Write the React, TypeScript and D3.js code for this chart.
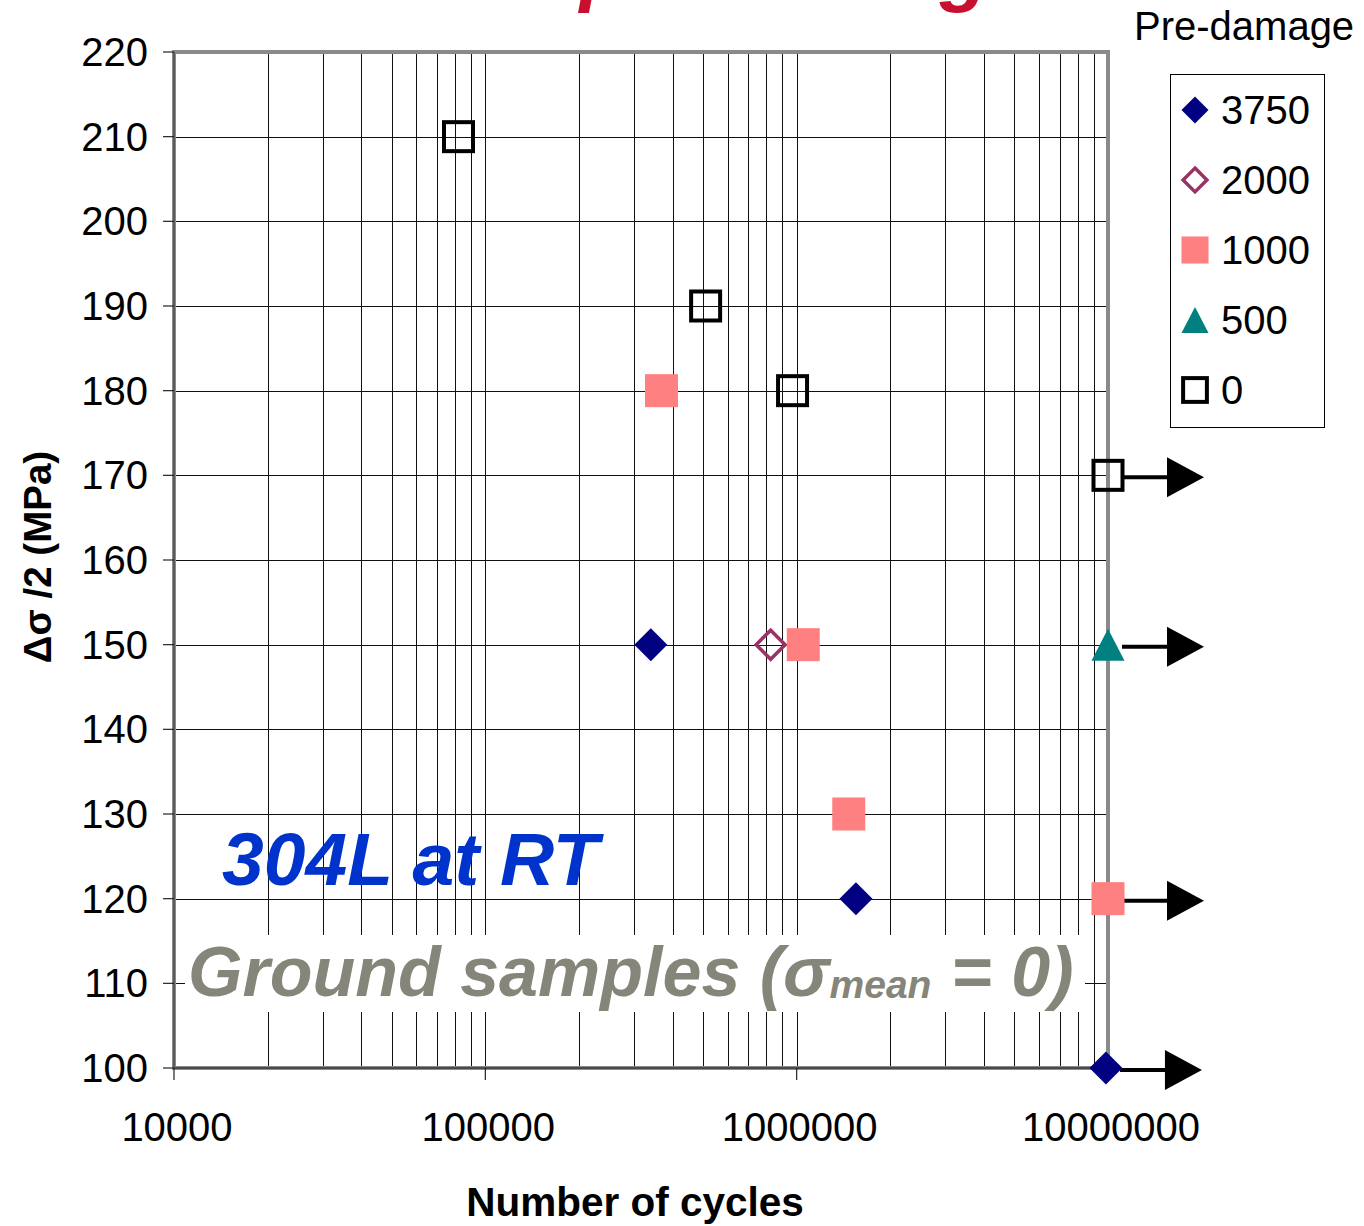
import React, { useEffect, useRef } from 'react';
import * as d3 from 'd3';

// pre-damage levels, in legend order
const seriesLabels = ['3750', '2000', '1000', '500', '0'];

const cycles3750 = [340000, 1550000, 9850000];
const stress3750 = [150, 120, 100];
const cycles2000 = [825000];
const stress2000 = [150];
const cycles1000 = [368000, 1050000, 1470000, 10000000];
const stress1000 = [180, 150, 130, 120];
const cycles500 = [10000000];
const stress500 = [150];
const cycles0 = [82000, 510000, 970000, 10000000];
const stress0 = [210, 190, 180, 170];

// run-outs (test stopped, no failure)
const runoutCycles = [10000000, 10000000, 10000000, 9850000];
const runoutStress = [170, 150, 120, 100];

const yTicks = [100, 110, 120, 130, 140, 150, 160, 170, 180, 190, 200, 210, 220];
const xTicks = [10000, 100000, 1000000, 10000000];
const xTickLabels = ['10000', '100000', '1000000', '10000000'];

const FONT = '"Liberation Sans", Arial, sans-serif';

function drawMarker(g: any, kind: string, cx: number, cy: number, legend: boolean) {
  const k = legend ? 0.82 : 1;
  if (kind === '3750') {
    const r = 16.5 * k;
    g.append('path')
      .attr('d', `M${cx},${cy - r}L${cx + r},${cy}L${cx},${cy + r}L${cx - r},${cy}Z`)
      .attr('fill', '#000080');
  } else if (kind === '2000') {
    const r = 14.5 * k;
    g.append('path')
      .attr('d', `M${cx},${cy - r}L${cx + r},${cy}L${cx},${cy + r}L${cx - r},${cy}Z`)
      .attr('fill', 'none')
      .attr('stroke', '#993366')
      .attr('stroke-width', 3.5);
  } else if (kind === '1000') {
    const s = 33 * k;
    g.append('rect')
      .attr('x', cx - s / 2).attr('y', cy - s / 2)
      .attr('width', s).attr('height', s)
      .attr('fill', '#ff8080');
  } else if (kind === '500') {
    const w = 33 * k, h = 32 * k;
    g.append('path')
      .attr('d', `M${cx},${cy - h / 2}L${cx + w / 2},${cy + h / 2}L${cx - w / 2},${cy + h / 2}Z`)
      .attr('fill', '#008080');
  } else {
    const s = 29 * k;
    g.append('rect')
      .attr('x', cx - s / 2).attr('y', cy - s / 2)
      .attr('width', s).attr('height', s)
      .attr('fill', 'none')
      .attr('stroke', '#000')
      .attr('stroke-width', 4);
  }
}

function App() {
  const ref = useRef<SVGSVGElement>(null);

  useEffect(() => {
    const svg = d3.select(ref.current);
    svg.selectAll('*').remove();

    const left = 174, right = 1108, top = 52, bottom = 1068;
    const x = d3.scaleLog().domain([10000, 10000000]).range([left, right]);
    const y = d3.scaleLinear().domain([100, 220]).range([bottom, top]);

    // title, cut off by the top edge as in the source slide
    svg.append('text')
      .attr('x', 636).attr('y', -4)
      .attr('text-anchor', 'middle')
      .attr('font-family', FONT)
      .attr('font-size', 80)
      .attr('font-weight', 'bold')
      .attr('font-style', 'italic')
      .attr('fill', '#c8102e')
      .text('Effect of pre-damage');

    const grid = svg.append('g').attr('shape-rendering', 'crispEdges');
    // vertical log grid: 2..9 in every decade plus the decades
    const minor: number[] = [];
    for (let d = 10000; d < 10000000; d *= 10) {
      for (let m = 2; m <= 9; m++) minor.push(d * m);
    }
    minor.push(100000, 1000000);
    grid.selectAll('line.v')
      .data(minor)
      .enter().append('line')
      .attr('x1', d => Math.round(x(d)) + 0.5).attr('x2', d => Math.round(x(d)) + 0.5)
      .attr('y1', top).attr('y2', bottom)
      .attr('stroke', '#111').attr('stroke-width', 1);
    grid.selectAll('line.h')
      .data(yTicks.slice(1, -1))
      .enter().append('line')
      .attr('x1', left).attr('x2', right)
      .attr('y1', d => Math.round(y(d)) + 0.5).attr('y2', d => Math.round(y(d)) + 0.5)
      .attr('stroke', '#111').attr('stroke-width', 1);

    // white box behind the sample note
    svg.append('rect')
      .attr('x', 185).attr('y', 935).attr('width', 900).attr('height', 77)
      .attr('fill', '#fff');

    // frame
    svg.append('rect')
      .attr('x', left).attr('y', top)
      .attr('width', right - left).attr('height', bottom - top)
      .attr('fill', 'none').attr('stroke', '#8a8a8a').attr('stroke-width', 4);
    svg.append('line')
      .attr('x1', left).attr('x2', left).attr('y1', top).attr('y2', bottom)
      .attr('stroke', '#5a5a5a').attr('stroke-width', 2);
    svg.append('line')
      .attr('x1', left).attr('x2', right).attr('y1', bottom).attr('y2', bottom)
      .attr('stroke', '#4a4a4a').attr('stroke-width', 2);

    // ticks and labels
    const yAx = svg.append('g');
    yAx.selectAll('line')
      .data(yTicks)
      .enter().append('line')
      .attr('x1', left - 11).attr('x2', left)
      .attr('y1', d => y(d)).attr('y2', d => y(d))
      .attr('stroke', '#222').attr('stroke-width', 1.2);
    yAx.selectAll('text')
      .data(yTicks)
      .enter().append('text')
      .attr('x', 148).attr('y', d => y(d) + 14)
      .attr('text-anchor', 'end')
      .attr('font-family', FONT).attr('font-size', 40)
      .attr('fill', '#000')
      .text(d => String(d));

    const xAx = svg.append('g');
    xAx.selectAll('line')
      .data(xTicks)
      .enter().append('line')
      .attr('x1', d => x(d)).attr('x2', d => x(d))
      .attr('y1', bottom).attr('y2', bottom + 12)
      .attr('stroke', '#222').attr('stroke-width', 1.2);
    xAx.selectAll('text')
      .data(xTicks)
      .enter().append('text')
      .attr('x', d => x(d) + 3).attr('y', 1141)
      .attr('text-anchor', 'middle')
      .attr('font-family', FONT).attr('font-size', 40)
      .attr('fill', '#000')
      .text((d, i) => xTickLabels[i]);

    svg.append('text')
      .attr('x', 635).attr('y', 1216)
      .attr('text-anchor', 'middle')
      .attr('font-family', FONT).attr('font-size', 40.5).attr('font-weight', 'bold')
      .text('Number of cycles');
    svg.append('text')
      .attr('transform', 'translate(51,557) rotate(-90)')
      .attr('text-anchor', 'middle')
      .attr('font-family', FONT).attr('font-size', 38.5).attr('font-weight', 'bold')
      .text('\u0394\u03c3 /2 (MPa)');

    // annotations
    svg.append('text')
      .attr('x', 222).attr('y', 885)
      .attr('font-family', FONT).attr('font-size', 75)
      .attr('font-weight', 'bold').attr('font-style', 'italic')
      .attr('fill', '#0033cc')
      .text('304L at RT');
    const note = svg.append('text')
      .attr('x', 188).attr('y', 996)
      .attr('font-family', FONT).attr('font-size', 70)
      .attr('font-weight', 'bold').attr('font-style', 'italic')
      .attr('fill', '#858579');
    note.append('tspan').text('Ground samples (\u03c3');
    note.append('tspan').attr('font-size', 39).attr('dy', 2).text('mean');
    note.append('tspan').attr('dy', -2).text(' = 0)');

    // run-out arrows
    const arrows = svg.append('g');
    runoutCycles.forEach((c, i) => {
      const cx = x(c), cy = y(runoutStress[i]);
      arrows.append('line')
        .attr('x1', cx + 14).attr('x2', cx + 60)
        .attr('y1', cy + 2).attr('y2', cy + 2)
        .attr('stroke', '#000').attr('stroke-width', 4);
      arrows.append('path')
        .attr('d', `M${cx + 59},${cy - 18}L${cx + 96},${cy + 2}L${cx + 59},${cy + 22}Z`)
        .attr('fill', '#000');
    });

    // data points
    const pts = svg.append('g');
    const series = [
      [cycles3750, stress3750],
      [cycles2000, stress2000],
      [cycles1000, stress1000],
      [cycles500, stress500],
      [cycles0, stress0],
    ];
    series.forEach((s, si) => {
      s[0].forEach((c, i) => drawMarker(pts, seriesLabels[si], x(c), y(s[1][i]), false));
    });

    // legend
    svg.append('text')
      .attr('x', 1134).attr('y', 40)
      .attr('font-family', FONT).attr('font-size', 40)
      .text('Pre-damage');
    const lg = svg.append('g');
    lg.append('rect')
      .attr('x', 1170.5).attr('y', 74.5).attr('width', 154).attr('height', 353)
      .attr('fill', '#fff').attr('stroke', '#000').attr('stroke-width', 1);
    seriesLabels.forEach((lab, i) => {
      const cy = 110 + i * 70;
      drawMarker(lg, lab, 1195, cy, true);
      lg.append('text')
        .attr('x', 1221).attr('y', cy + 14)
        .attr('font-family', FONT).attr('font-size', 40)
        .text(lab);
    });
  }, []);

  return (
    <div style={{ position: 'absolute', left: 0, top: 0 }}>
      <svg ref={ref} width={1364} height={1226} style={{ display: 'block', background: '#fff' }} />
    </div>
  );
}

export default App;
